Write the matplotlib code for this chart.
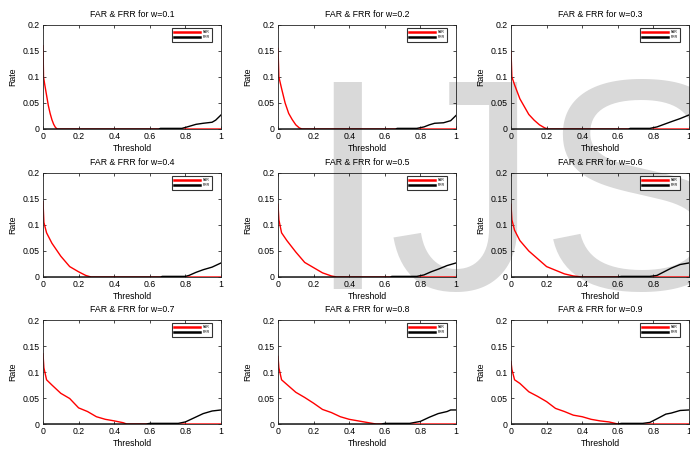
import matplotlib

matplotlib.use("Agg")

import matplotlib.pyplot as plt

plt.rcParams["font.family"] = ["Liberation Sans", "DejaVu Sans"]

# weights w for the 3x3 panels (row-major)
W_VALUES = [0.1, 0.2, 0.3, 0.4, 0.5, 0.6, 0.7, 0.8, 0.9]

# FAR curves (red)
FAR_T = [
    [0, 0.003, 0.01, 0.02, 0.03, 0.04, 0.05, 0.06, 0.07, 0.08, 1.0],
    [0, 0.005, 0.02, 0.04, 0.06, 0.08, 0.1, 0.12, 0.135, 1.0],
    [0, 0.005, 0.02, 0.05, 0.08, 0.1, 0.13, 0.16, 0.19, 0.21, 1.0],
    [0, 0.005, 0.02, 0.05, 0.1, 0.15, 0.2, 0.24, 0.27, 1.0],
    [0, 0.005, 0.02, 0.05, 0.1, 0.15, 0.2, 0.25, 0.3, 0.33, 1.0],
    [0, 0.005, 0.02, 0.05, 0.1, 0.15, 0.2, 0.25, 0.3, 0.35, 0.4, 1.0],
    [0, 0.005, 0.02, 0.05, 0.1, 0.15, 0.2, 0.25, 0.3, 0.35, 0.4, 0.45, 0.47, 1.0],
    [0, 0.005, 0.02, 0.05, 0.1, 0.15, 0.2, 0.25, 0.3, 0.35, 0.4, 0.45, 0.5, 0.55, 1.0],
    [0, 0.005, 0.02, 0.05, 0.1, 0.15, 0.2, 0.25, 0.3, 0.35, 0.4, 0.45, 0.5, 0.55, 0.6, 1.0],
]
FAR_RATE = [
    [0.16, 0.1, 0.085, 0.065, 0.045, 0.03, 0.018, 0.009, 0.003, 0, 0],
    [0.155, 0.1, 0.078, 0.05, 0.03, 0.018, 0.008, 0.002, 0, 0],
    [0.15, 0.1, 0.085, 0.058, 0.04, 0.028, 0.017, 0.008, 0.002, 0, 0],
    [0.145, 0.105, 0.085, 0.065, 0.04, 0.02, 0.01, 0.003, 0, 0],
    [0.14, 0.11, 0.085, 0.07, 0.048, 0.028, 0.018, 0.008, 0.002, 0, 0],
    [0.14, 0.11, 0.09, 0.07, 0.05, 0.035, 0.02, 0.013, 0.006, 0.002, 0, 0],
    [0.135, 0.108, 0.085, 0.075, 0.059, 0.049, 0.031, 0.024, 0.014, 0.009, 0.006, 0.0025, 0, 0],
    [0.13, 0.108, 0.085, 0.076, 0.061, 0.051, 0.04, 0.028, 0.022, 0.014, 0.009, 0.006, 0.003, 0, 0],
    [0.12, 0.105, 0.085, 0.078, 0.062, 0.053, 0.043, 0.03, 0.024, 0.017, 0.014, 0.009, 0.006, 0.004, 0, 0],
]

# FRR curves (black)
FRR_T = [
    [0, 0.65, 0.66, 0.78, 0.8, 0.83, 0.86, 0.9, 0.95, 0.97, 1.0],
    [0, 0.66, 0.67, 0.78, 0.82, 0.85, 0.88, 0.93, 0.97, 1.0],
    [0, 0.66, 0.67, 0.78, 0.82, 0.86, 0.9, 0.95, 1.0],
    [0, 0.66, 0.67, 0.8, 0.82, 0.86, 0.9, 0.95, 1.0],
    [0, 0.63, 0.64, 0.78, 0.82, 0.86, 0.9, 0.95, 1.0],
    [0, 0.6, 0.62, 0.78, 0.82, 0.86, 0.9, 0.95, 1.0],
    [0, 0.58, 0.6, 0.76, 0.8, 0.85, 0.9, 0.95, 1.0],
    [0, 0.58, 0.6, 0.74, 0.8, 0.85, 0.9, 0.95, 0.97, 1.0],
    [0, 0.6, 0.62, 0.74, 0.78, 0.82, 0.87, 0.9, 0.95, 1.0],
]
FRR_RATE = [
    [0, 0, 0.0012, 0.0012, 0.003, 0.006, 0.009, 0.011, 0.013, 0.017, 0.027],
    [0, 0, 0.0012, 0.0012, 0.004, 0.008, 0.011, 0.012, 0.016, 0.026],
    [0, 0, 0.0012, 0.0012, 0.004, 0.009, 0.014, 0.02, 0.027],
    [0, 0, 0.0012, 0.0012, 0.003, 0.009, 0.014, 0.019, 0.027],
    [0, 0, 0.0012, 0.0012, 0.004, 0.01, 0.015, 0.022, 0.027],
    [0, 0, 0.0012, 0.0012, 0.003, 0.01, 0.017, 0.024, 0.027],
    [0, 0, 0.0012, 0.0012, 0.004, 0.012, 0.02, 0.025, 0.027],
    [0, 0, 0.0012, 0.0012, 0.005, 0.013, 0.02, 0.024, 0.027, 0.027],
    [0, 0, 0.0012, 0.0012, 0.003, 0.01, 0.019, 0.021, 0.026, 0.027],
]

X_TICKS = [0, 0.2, 0.4, 0.6, 0.8, 1.0]
X_TICK_LABELS = ["0", "0.2", "0.4", "0.6", "0.8", "1"]
Y_TICKS = [0, 0.05, 0.1, 0.15, 0.2]
Y_TICK_LABELS = ["0", "0.05", "0.1", "0.15", "0.2"]

FIG_W, FIG_H = 690, 455
COL_LEFT = [43, 278, 511]  # px
ROW_TOP = [25, 173, 320]  # px
AX_W, AX_H = 178, 104  # px

fig = plt.figure(figsize=(FIG_W / 100, FIG_H / 100), dpi=100)
fig.patch.set_facecolor("white")

# watermark sits behind the (transparent) axes
fig.text(305 / FIG_W, 1 - 289 / FIG_H, "IJS", fontsize=217, color="#d9d9d9",
         ha="left", va="baseline", zorder=-5)

for i, w in enumerate(W_VALUES):
    row, col = divmod(i, 3)
    left = COL_LEFT[col] / FIG_W
    bottom = 1 - (ROW_TOP[row] + AX_H) / FIG_H
    ax = fig.add_axes([left, bottom, AX_W / FIG_W, AX_H / FIG_H])
    ax.set_facecolor("none")

    ax.plot(FAR_T[i], FAR_RATE[i], color="red", lw=1.0, label="FAR")
    ax.plot(FRR_T[i], FRR_RATE[i], color="black", lw=1.0, label="FRR")

    ax.set_xlim(0, 1)
    ax.set_ylim(0, 0.2)
    ax.set_xticks(X_TICKS)
    ax.set_xticklabels(X_TICK_LABELS)
    ax.set_yticks(Y_TICKS)
    ax.set_yticklabels(Y_TICK_LABELS)
    ax.tick_params(direction="in", length=2.5, width=0.5, labelsize=6.3,
                   top=True, right=True, pad=2.5)
    for spine in ax.spines.values():
        spine.set_linewidth(0.6)
        spine.set_color("#222222")

    ax.set_title(f"FAR & FRR for w={w}", fontsize=6.3, pad=5.5)
    ax.set_xlabel("Threshold", fontsize=6.3, labelpad=1.5)
    ax.set_ylabel("Rate", fontsize=6.3, labelpad=4)

    leg = ax.legend(loc="upper right", bbox_to_anchor=(1 - 9 / AX_W, 1 - 3 / AX_H),
                    borderaxespad=0, fontsize=2.5, handlelength=7.5,
                    frameon=True, fancybox=False,
                    borderpad=0.6, labelspacing=0.4, handletextpad=0.8)
    leg.get_frame().set_edgecolor("black")
    leg.get_frame().set_linewidth(0.8)
    for line in leg.get_lines():
        line.set_linewidth(1.8)

fig.savefig("out.png", dpi=100)
